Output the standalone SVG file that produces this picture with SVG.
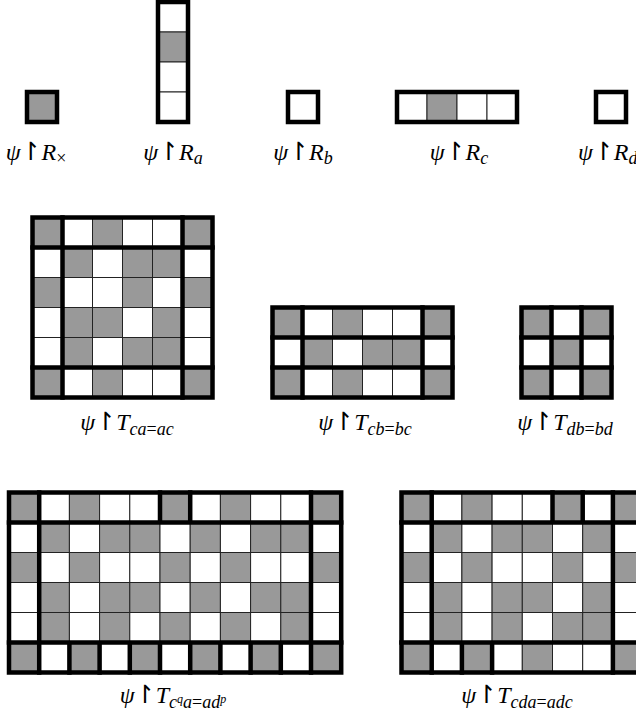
<svg xmlns="http://www.w3.org/2000/svg" width="636" height="726" viewBox="0 0 636 726">
<style>
.g{fill:#999999;stroke:#222;stroke-width:1}
.w{fill:#ffffff;stroke:#222;stroke-width:1}
.t{fill:none;stroke:#000;stroke-width:4.5;stroke-linecap:square}
.lbl{font-family:"Liberation Serif","DejaVu Serif",serif;font-style:italic;font-size:24px;fill:#000}
.h{font-family:"DejaVu Sans",sans-serif;font-style:normal;font-size:25px}
.s{font-size:18px}
.ss{font-size:12px}
.up{font-style:normal}
</style>
<rect width="636" height="726" fill="#fff"/>

<!-- Top row -->
<g id="R_x">
<rect class="g" x="27" y="92" width="30" height="30"/>
<rect class="t" x="27" y="92" width="30" height="30"/>
<text class="lbl" x="36" y="160" text-anchor="middle">ψ<tspan class="h">↾</tspan>R<tspan class="s up" dy="4">×</tspan></text>
</g>
<g id="R_a">
<rect class="w" x="158" y="2" width="30" height="30"/>
<rect class="g" x="158" y="32" width="30" height="30"/>
<rect class="w" x="158" y="62" width="30" height="30"/>
<rect class="w" x="158" y="92" width="30" height="30"/>
<rect class="t" x="158" y="2" width="30" height="120"/>
<text class="lbl" x="173" y="160" text-anchor="middle">ψ<tspan class="h">↾</tspan>R<tspan class="s" dy="4">a</tspan></text>
</g>
<g id="R_b">
<rect class="w" x="288" y="92" width="30" height="30"/>
<rect class="t" x="288" y="92" width="30" height="30"/>
<text class="lbl" x="303" y="160" text-anchor="middle">ψ<tspan class="h">↾</tspan>R<tspan class="s" dy="4">b</tspan></text>
</g>
<g id="R_c">
<rect class="w" x="397" y="92" width="30" height="30"/>
<rect class="g" x="427" y="92" width="30" height="30"/>
<rect class="w" x="457" y="92" width="30" height="30"/>
<rect class="w" x="487" y="92" width="30" height="30"/>
<rect class="t" x="397" y="92" width="120" height="30"/>
<text class="lbl" x="459" y="160" text-anchor="middle">ψ<tspan class="h">↾</tspan>R<tspan class="s" dy="4">c</tspan></text>
</g>
<g id="R_d">
<rect class="w" x="596" y="92" width="30" height="30"/>
<rect class="t" x="596" y="92" width="30" height="30"/>
<text class="lbl" x="578" y="160">ψ<tspan class="h">↾</tspan>R<tspan class="s" dy="4">d</tspan></text>
</g>

<!-- Middle row -->
<g id="T_ca">
<g transform="translate(32.5,217.5)">
<rect class="g" x="0" y="0" width="30" height="30"/><rect class="w" x="30" y="0" width="30" height="30"/><rect class="g" x="60" y="0" width="30" height="30"/><rect class="w" x="90" y="0" width="30" height="30"/><rect class="w" x="120" y="0" width="30" height="30"/><rect class="g" x="150" y="0" width="30" height="30"/>
<rect class="w" x="0" y="30" width="30" height="30"/><rect class="g" x="30" y="30" width="30" height="30"/><rect class="w" x="60" y="30" width="30" height="30"/><rect class="g" x="90" y="30" width="30" height="30"/><rect class="g" x="120" y="30" width="30" height="30"/><rect class="w" x="150" y="30" width="30" height="30"/>
<rect class="g" x="0" y="60" width="30" height="30"/><rect class="w" x="30" y="60" width="30" height="30"/><rect class="w" x="60" y="60" width="30" height="30"/><rect class="g" x="90" y="60" width="30" height="30"/><rect class="w" x="120" y="60" width="30" height="30"/><rect class="g" x="150" y="60" width="30" height="30"/>
<rect class="w" x="0" y="90" width="30" height="30"/><rect class="g" x="30" y="90" width="30" height="30"/><rect class="g" x="60" y="90" width="30" height="30"/><rect class="w" x="90" y="90" width="30" height="30"/><rect class="g" x="120" y="90" width="30" height="30"/><rect class="w" x="150" y="90" width="30" height="30"/>
<rect class="w" x="0" y="120" width="30" height="30"/><rect class="g" x="30" y="120" width="30" height="30"/><rect class="w" x="60" y="120" width="30" height="30"/><rect class="g" x="90" y="120" width="30" height="30"/><rect class="g" x="120" y="120" width="30" height="30"/><rect class="w" x="150" y="120" width="30" height="30"/>
<rect class="g" x="0" y="150" width="30" height="30"/><rect class="w" x="30" y="150" width="30" height="30"/><rect class="g" x="60" y="150" width="30" height="30"/><rect class="w" x="90" y="150" width="30" height="30"/><rect class="w" x="120" y="150" width="30" height="30"/><rect class="g" x="150" y="150" width="30" height="30"/>
<path class="t" d="M30 0V180M150 0V180M0 30H180M0 150H180"/>
<rect class="t" x="0" y="0" width="180" height="180"/>
</g>
<text class="lbl" x="127" y="430" text-anchor="middle">ψ<tspan class="h">↾</tspan>T<tspan class="s" dy="5">ca<tspan class="up">=</tspan>ac</tspan></text>
</g>

<g id="T_cb">
<g transform="translate(272.5,307.5)">
<rect class="g" x="0" y="0" width="30" height="30"/><rect class="w" x="30" y="0" width="30" height="30"/><rect class="g" x="60" y="0" width="30" height="30"/><rect class="w" x="90" y="0" width="30" height="30"/><rect class="w" x="120" y="0" width="30" height="30"/><rect class="g" x="150" y="0" width="30" height="30"/>
<rect class="w" x="0" y="30" width="30" height="30"/><rect class="g" x="30" y="30" width="30" height="30"/><rect class="w" x="60" y="30" width="30" height="30"/><rect class="g" x="90" y="30" width="30" height="30"/><rect class="g" x="120" y="30" width="30" height="30"/><rect class="w" x="150" y="30" width="30" height="30"/>
<rect class="g" x="0" y="60" width="30" height="30"/><rect class="w" x="30" y="60" width="30" height="30"/><rect class="g" x="60" y="60" width="30" height="30"/><rect class="w" x="90" y="60" width="30" height="30"/><rect class="w" x="120" y="60" width="30" height="30"/><rect class="g" x="150" y="60" width="30" height="30"/>
<path class="t" d="M30 0V90M150 0V90M0 30H180M0 60H180"/>
<rect class="t" x="0" y="0" width="180" height="90"/>
</g>
<text class="lbl" x="365" y="430" text-anchor="middle">ψ<tspan class="h">↾</tspan>T<tspan class="s" dy="5">cb<tspan class="up">=</tspan>bc</tspan></text>
</g>

<g id="T_db">
<g transform="translate(521.5,307.5)">
<rect class="g" x="0" y="0" width="30" height="30"/><rect class="w" x="30" y="0" width="30" height="30"/><rect class="g" x="60" y="0" width="30" height="30"/>
<rect class="w" x="0" y="30" width="30" height="30"/><rect class="g" x="30" y="30" width="30" height="30"/><rect class="w" x="60" y="30" width="30" height="30"/>
<rect class="g" x="0" y="60" width="30" height="30"/><rect class="w" x="30" y="60" width="30" height="30"/><rect class="g" x="60" y="60" width="30" height="30"/>
<path class="t" d="M30 0V90M60 0V90M0 30H90M0 60H90"/>
<rect class="t" x="0" y="0" width="90" height="90"/>
</g>
<text class="lbl" x="565" y="430" text-anchor="middle">ψ<tspan class="h">↾</tspan>T<tspan class="s" dy="5">db<tspan class="up">=</tspan>bd</tspan></text>
</g>

<!-- Bottom row -->
<g id="T_cqa">
<g transform="translate(9,492.5)">
<rect class="g" x="0" y="0" width="30.2" height="30"/><rect class="w" x="30.2" y="0" width="30.2" height="30"/><rect class="g" x="60.4" y="0" width="30.2" height="30"/><rect class="w" x="90.6" y="0" width="30.2" height="30"/><rect class="w" x="120.8" y="0" width="30.2" height="30"/><rect class="g" x="151" y="0" width="30.2" height="30"/><rect class="w" x="181.2" y="0" width="30.2" height="30"/><rect class="g" x="211.4" y="0" width="30.2" height="30"/><rect class="w" x="241.6" y="0" width="30.2" height="30"/><rect class="w" x="271.8" y="0" width="30.2" height="30"/><rect class="g" x="302" y="0" width="30.2" height="30"/>
<rect class="w" x="0" y="30" width="30.2" height="30"/><rect class="g" x="30.2" y="30" width="30.2" height="30"/><rect class="w" x="60.4" y="30" width="30.2" height="30"/><rect class="g" x="90.6" y="30" width="30.2" height="30"/><rect class="g" x="120.8" y="30" width="30.2" height="30"/><rect class="w" x="151" y="30" width="30.2" height="30"/><rect class="g" x="181.2" y="30" width="30.2" height="30"/><rect class="w" x="211.4" y="30" width="30.2" height="30"/><rect class="g" x="241.6" y="30" width="30.2" height="30"/><rect class="g" x="271.8" y="30" width="30.2" height="30"/><rect class="w" x="302" y="30" width="30.2" height="30"/>
<rect class="g" x="0" y="60" width="30.2" height="30"/><rect class="w" x="30.2" y="60" width="30.2" height="30"/><rect class="g" x="60.4" y="60" width="30.2" height="30"/><rect class="w" x="90.6" y="60" width="30.2" height="30"/><rect class="w" x="120.8" y="60" width="30.2" height="30"/><rect class="g" x="151" y="60" width="30.2" height="30"/><rect class="w" x="181.2" y="60" width="30.2" height="30"/><rect class="g" x="211.4" y="60" width="30.2" height="30"/><rect class="w" x="241.6" y="60" width="30.2" height="30"/><rect class="w" x="271.8" y="60" width="30.2" height="30"/><rect class="g" x="302" y="60" width="30.2" height="30"/>
<rect class="w" x="0" y="90" width="30.2" height="30"/><rect class="g" x="30.2" y="90" width="30.2" height="30"/><rect class="w" x="60.4" y="90" width="30.2" height="30"/><rect class="g" x="90.6" y="90" width="30.2" height="30"/><rect class="g" x="120.8" y="90" width="30.2" height="30"/><rect class="w" x="151" y="90" width="30.2" height="30"/><rect class="g" x="181.2" y="90" width="30.2" height="30"/><rect class="w" x="211.4" y="90" width="30.2" height="30"/><rect class="g" x="241.6" y="90" width="30.2" height="30"/><rect class="g" x="271.8" y="90" width="30.2" height="30"/><rect class="w" x="302" y="90" width="30.2" height="30"/>
<rect class="w" x="0" y="120" width="30.2" height="30"/><rect class="g" x="30.2" y="120" width="30.2" height="30"/><rect class="w" x="60.4" y="120" width="30.2" height="30"/><rect class="g" x="90.6" y="120" width="30.2" height="30"/><rect class="w" x="120.8" y="120" width="30.2" height="30"/><rect class="g" x="151" y="120" width="30.2" height="30"/><rect class="w" x="181.2" y="120" width="30.2" height="30"/><rect class="g" x="211.4" y="120" width="30.2" height="30"/><rect class="w" x="241.6" y="120" width="30.2" height="30"/><rect class="g" x="271.8" y="120" width="30.2" height="30"/><rect class="w" x="302" y="120" width="30.2" height="30"/>
<rect class="g" x="0" y="150" width="30.2" height="30"/><rect class="w" x="30.2" y="150" width="30.2" height="30"/><rect class="g" x="60.4" y="150" width="30.2" height="30"/><rect class="w" x="90.6" y="150" width="30.2" height="30"/><rect class="g" x="120.8" y="150" width="30.2" height="30"/><rect class="w" x="151" y="150" width="30.2" height="30"/><rect class="g" x="181.2" y="150" width="30.2" height="30"/><rect class="w" x="211.4" y="150" width="30.2" height="30"/><rect class="g" x="241.6" y="150" width="30.2" height="30"/><rect class="w" x="271.8" y="150" width="30.2" height="30"/><rect class="g" x="302" y="150" width="30.2" height="30"/>
<path class="t" d="M30.2 0V180M302 0V180M0 30H332.2M0 150H332.2M151 0V30M181.2 0V30M60.4 150V180M90.6 150V180M120.8 150V180M151 150V180M181.2 150V180M211.4 150V180M241.6 150V180M271.8 150V180"/>
<rect class="t" x="0" y="0" width="332.2" height="180"/>
</g>
<text class="lbl" x="173" y="703" text-anchor="middle">ψ<tspan class="h">↾</tspan>T<tspan class="s" dy="5">c<tspan class="ss" dy="-5">q</tspan><tspan dy="5">a<tspan class="up">=</tspan>ad</tspan><tspan class="ss" dy="-5">p</tspan></tspan></text>
</g>

<g id="T_cda">
<g transform="translate(401.5,492.5)">
<rect class="g" x="0" y="0" width="30.2" height="30"/><rect class="w" x="30.2" y="0" width="30.2" height="30"/><rect class="g" x="60.4" y="0" width="30.2" height="30"/><rect class="w" x="90.6" y="0" width="30.2" height="30"/><rect class="w" x="120.8" y="0" width="30.2" height="30"/><rect class="g" x="151" y="0" width="30.2" height="30"/><rect class="w" x="181.2" y="0" width="30.2" height="30"/><rect class="g" x="211.4" y="0" width="30.2" height="30"/>
<rect class="w" x="0" y="30" width="30.2" height="30"/><rect class="g" x="30.2" y="30" width="30.2" height="30"/><rect class="w" x="60.4" y="30" width="30.2" height="30"/><rect class="g" x="90.6" y="30" width="30.2" height="30"/><rect class="g" x="120.8" y="30" width="30.2" height="30"/><rect class="w" x="151" y="30" width="30.2" height="30"/><rect class="g" x="181.2" y="30" width="30.2" height="30"/><rect class="w" x="211.4" y="30" width="30.2" height="30"/>
<rect class="g" x="0" y="60" width="30.2" height="30"/><rect class="w" x="30.2" y="60" width="30.2" height="30"/><rect class="g" x="60.4" y="60" width="30.2" height="30"/><rect class="w" x="90.6" y="60" width="30.2" height="30"/><rect class="w" x="120.8" y="60" width="30.2" height="30"/><rect class="g" x="151" y="60" width="30.2" height="30"/><rect class="w" x="181.2" y="60" width="30.2" height="30"/><rect class="g" x="211.4" y="60" width="30.2" height="30"/>
<rect class="w" x="0" y="90" width="30.2" height="30"/><rect class="g" x="30.2" y="90" width="30.2" height="30"/><rect class="w" x="60.4" y="90" width="30.2" height="30"/><rect class="g" x="90.6" y="90" width="30.2" height="30"/><rect class="g" x="120.8" y="90" width="30.2" height="30"/><rect class="w" x="151" y="90" width="30.2" height="30"/><rect class="g" x="181.2" y="90" width="30.2" height="30"/><rect class="w" x="211.4" y="90" width="30.2" height="30"/>
<rect class="w" x="0" y="120" width="30.2" height="30"/><rect class="g" x="30.2" y="120" width="30.2" height="30"/><rect class="w" x="60.4" y="120" width="30.2" height="30"/><rect class="g" x="90.6" y="120" width="30.2" height="30"/><rect class="w" x="120.8" y="120" width="30.2" height="30"/><rect class="g" x="151" y="120" width="30.2" height="30"/><rect class="g" x="181.2" y="120" width="30.2" height="30"/><rect class="w" x="211.4" y="120" width="30.2" height="30"/>
<rect class="g" x="0" y="150" width="30.2" height="30"/><rect class="w" x="30.2" y="150" width="30.2" height="30"/><rect class="g" x="60.4" y="150" width="30.2" height="30"/><rect class="w" x="90.6" y="150" width="30.2" height="30"/><rect class="g" x="120.8" y="150" width="30.2" height="30"/><rect class="w" x="151" y="150" width="30.2" height="30"/><rect class="w" x="181.2" y="150" width="30.2" height="30"/><rect class="g" x="211.4" y="150" width="30.2" height="30"/>
<path class="t" d="M30.2 0V180M211.4 0V180M0 30H241.6M0 150H241.6M151 0V30M181.2 0V30M60.4 150V180M90.6 150V180"/>
<rect class="t" x="0" y="0" width="241.6" height="180"/>
</g>
<text class="lbl" x="517" y="703" text-anchor="middle">ψ<tspan class="h">↾</tspan>T<tspan class="s" dy="5">cda<tspan class="up">=</tspan>adc</tspan></text>
</g>
</svg>
